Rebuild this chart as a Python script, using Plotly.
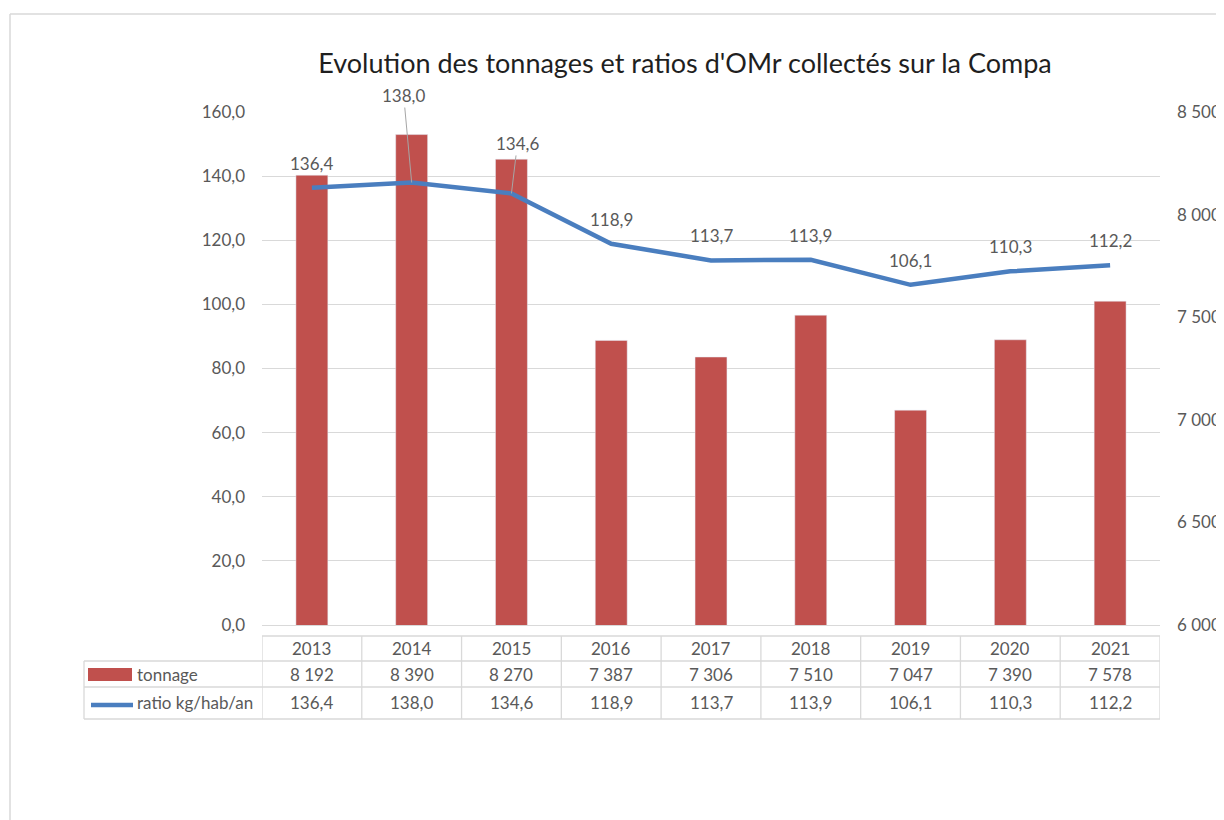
"""Evolution des tonnages et ratios d'OMr collectés sur la Compa"""
import plotly.graph_objects as go

BAR_COLOUR = '#c0504d'
LINE_COLOUR = '#4a7ebf'
GRID_COLOUR = '#d9d9d9'
TEXT_COLOUR = '#595959'
FONT = 'Lato'

years = ['2013', '2014', '2015', '2016', '2017', '2018', '2019', '2020', '2021']
tonnage = [8192, 8390, 8270, 7387, 7306, 7510, 7047, 7390, 7578]
ratio = [136.4, 138.0, 134.6, 118.9, 113.7, 113.9, 106.1, 110.3, 112.2]

# page geometry (pixels of the screenshot); the page body adds an 8px offset
OFF = 8
W, H = 1224 - OFF, 820 - OFF
L, R, T, B = 262, 1160, 112, 625


def px(x):
    return (x - L) / (R - L)


def py(y):
    return (B - y) / (B - T)


def fmt_int(v):
    return f"{v:,}".replace(',', ' ')


def fmt_dec(v):
    return f"{v:.1f}".replace('.', ',')


fig = go.Figure()
fig.add_trace(go.Bar(x=years, y=tonnage, name='tonnage', yaxis='y',
                     marker={'color': BAR_COLOUR}, width=0.32))
fig.add_trace(go.Scatter(x=years, y=ratio, name='ratio kg/hab/an', yaxis='y2',
                         mode='lines', line={'color': LINE_COLOUR, 'width': 4.5}))

label_font = {'size': 17, 'color': TEXT_COLOUR, 'family': FONT}

# data labels on the line (2014 and 2015 moved up with leader lines)
moved = {'2014': (-8, -87), '2015': (6, -50)}
for i, (yr, v) in enumerate(zip(years, ratio)):
    if yr in moved:
        ax, ay = moved[yr]
        fig.add_annotation(x=i, y=v, xref='x', yref='y2', text=fmt_dec(v),
                           showarrow=True, arrowhead=0, arrowwidth=1, arrowcolor='#a6a6a6',
                           ax=ax, ay=ay, standoff=0, font=label_font)
    else:
        fig.add_annotation(x=i, y=v, xref='x', yref='y2', text=fmt_dec(v),
                           showarrow=False, yanchor='bottom', yshift=12, font=label_font)

# data table
row_header, row_ton, row_ratio = py(648.5), py(674), py(703)
for i, yr in enumerate(years):
    for row, txt in [(row_header, yr), (row_ton, fmt_int(tonnage[i])),
                     (row_ratio, fmt_dec(ratio[i]))]:
        fig.add_annotation(x=i, y=row, xref='x', yref='paper', text=txt,
                           showarrow=False, xanchor='center', yanchor='middle',
                           font=label_font)
fig.add_annotation(x=px(135), y=row_ton, xref='paper', yref='paper', text='tonnage',
                   showarrow=False, xanchor='left', yanchor='middle', font=label_font)
fig.add_annotation(x=px(135), y=row_ratio, xref='paper', yref='paper', text='ratio kg/hab/an',
                   showarrow=False, xanchor='left', yanchor='middle', font=label_font)

shapes = []
tbl_line = {'color': GRID_COLOUR, 'width': 1.3}
for yline, x0 in [(636, L), (661, 84), (687, 84), (719, 84)]:
    shapes.append(dict(type='line', xref='paper', yref='paper', x0=px(x0), x1=1,
                       y0=py(yline), y1=py(yline), line=tbl_line))
for k in range(len(years) + 1):
    shapes.append(dict(type='line', xref='x', yref='paper', x0=k - 0.5, x1=k - 0.5,
                       y0=py(636), y1=py(719), line=tbl_line))
shapes.append(dict(type='line', xref='paper', yref='paper', x0=px(84), x1=px(84),
                   y0=py(661), y1=py(719), line=tbl_line))
# legend keys inside the table
shapes.append(dict(type='rect', xref='paper', yref='paper', x0=px(88), x1=px(132),
                   y0=py(668), y1=py(681), line={'width': 0}, fillcolor=BAR_COLOUR))
shapes.append(dict(type='line', xref='paper', yref='paper', x0=px(91), x1=px(133),
                   y0=py(705), y1=py(705), line={'color': LINE_COLOUR, 'width': 4.5}))
# chart frame
shapes.append(dict(type='line', xref='paper', yref='paper', x0=px(10), x1=px(10),
                   y0=py(14), y1=py(830), line={'color': GRID_COLOUR, 'width': 1.5}))
shapes.append(dict(type='line', xref='paper', yref='paper', x0=px(10), x1=px(1240),
                   y0=py(14), y1=py(14), line={'color': GRID_COLOUR, 'width': 1.5}))

fig.update_layout(
    width=W, height=H,
    margin={'l': L - OFF, 'r': W - (R - OFF), 't': T - OFF, 'b': H - (B - OFF)},
    paper_bgcolor='white', plot_bgcolor='white',
    separators=', ',
    showlegend=False,
    font={'family': FONT, 'color': TEXT_COLOUR, 'size': 17},
    title={'text': "Evolution des tonnages et ratios d'OMr collectés sur la Compa",
           'x': px(685), 'xanchor': 'center', 'xref': 'paper',
           'y': 1 - (64 - OFF) / H, 'yanchor': 'middle',
           'font': {'size': 27, 'color': '#1f1f1f', 'family': FONT}},
    xaxis={'type': 'category', 'range': [-0.5, len(years) - 0.5], 'automargin': False,
           'showticklabels': False, 'ticks': '', 'showgrid': False,
           'showline': True, 'linecolor': GRID_COLOUR, 'linewidth': 1.3},
    yaxis={'side': 'right', 'range': [6000, 8500], 'dtick': 500, 'tickformat': ',d',
           'automargin': False,
           'showgrid': False, 'zeroline': False, 'ticks': '', 'ticklabelstandoff': 16,
           'tickfont': {'size': 17, 'color': TEXT_COLOUR}},
    yaxis2={'side': 'left', 'overlaying': 'y', 'range': [0, 160], 'dtick': 20,
            'automargin': False,
            'tickformat': '.1f', 'showgrid': True, 'gridcolor': GRID_COLOUR, 'gridwidth': 1.3,
            'zeroline': False, 'ticks': '', 'ticklabelstandoff': 16,
            'tickfont': {'size': 17, 'color': TEXT_COLOUR}},
    shapes=shapes,
)

fig.write_html("out.html")
